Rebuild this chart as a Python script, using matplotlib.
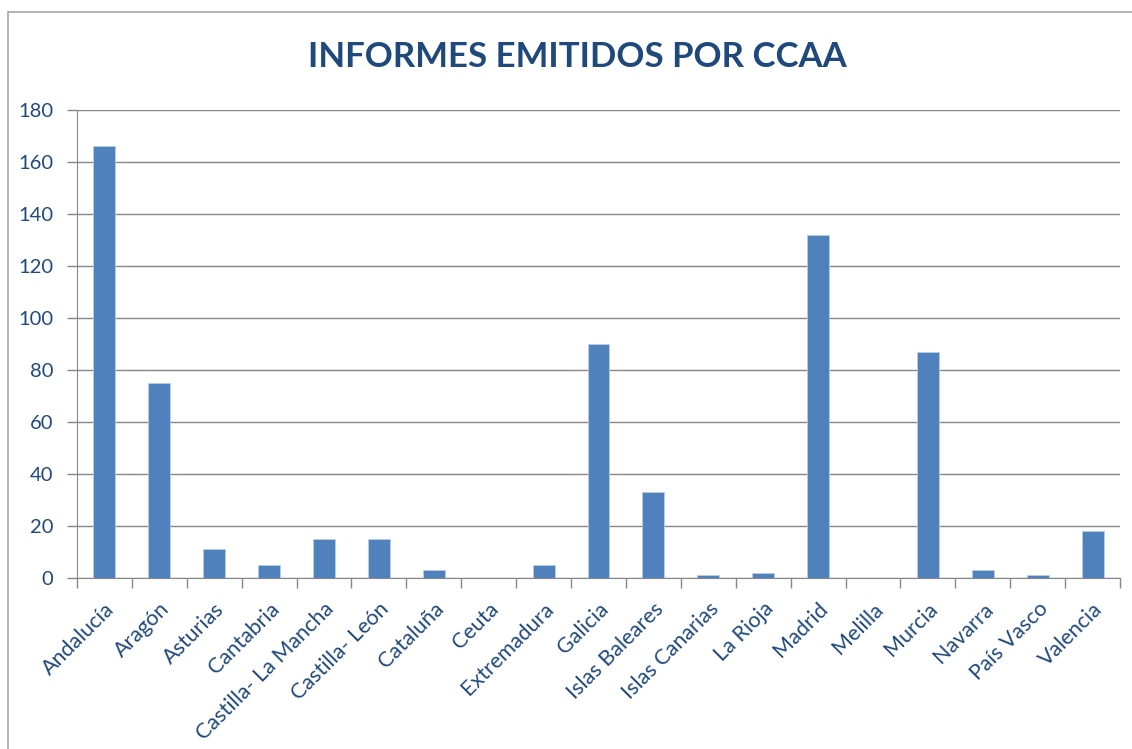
import numpy as np
import matplotlib.pyplot as plt
from matplotlib.patches import Rectangle

regiones = ['Andalucía', 'Aragón', 'Asturias', 'Cantabria', 'Castilla- La Mancha',
            'Castilla- León', 'Cataluña', 'Ceuta', 'Extremadura', 'Galicia',
            'Islas Baleares', 'Islas Canarias', 'La Rioja', 'Madrid', 'Melilla',
            'Murcia', 'Navarra', 'País Vasco', 'Valencia']
informes = [166, 75, 11, 5, 15, 15, 3, 0, 5, 90, 33, 1, 2, 132, 0, 87, 3, 1, 18]
yticks = [0, 20, 40, 60, 80, 100, 120, 140, 160, 180]

azul_barra = '#4F81BD'
azul_texto = '#1F497D'
gris = '#878787'

plt.rcParams['font.family'] = ['Lato', 'DejaVu Sans']

fig = plt.figure(figsize=(11.32, 7.49), dpi=100)
# marco exterior del gráfico
fig.patches.append(Rectangle((8 / 1132, -0.1), 1.2, 1 - 12 / 749 + 0.1,
                             transform=fig.transFigure, fill=False,
                             edgecolor='#A6A6A6', linewidth=1.2))

ax = fig.add_axes([77 / 1132, 1 - 578 / 749, (1120 - 77) / 1132, (578 - 110) / 749])
x = np.arange(len(regiones))
ax.bar(x, informes, width=0.4, color=azul_barra, edgecolor='#B9CDE5', linewidth=0.6, zorder=3)

ax.set_xlim(-0.5, len(regiones) - 0.5)
ax.set_ylim(0, 180)
ax.set_yticks(yticks)
ax.yaxis.grid(True, color=gris, linewidth=1)
ax.set_axisbelow(True)

ax.set_xticks(x)
ax.set_xticklabels(regiones, rotation=45, ha='right', rotation_mode='anchor',
                   fontsize=15.5, color=azul_texto)
ax.tick_params(axis='x', length=0, pad=15)
ax.set_xticks(np.arange(len(regiones) + 1) - 0.5, minor=True)
ax.tick_params(axis='x', which='minor', length=7, color=gris, width=1)
ax.tick_params(axis='y', length=7, color=gris, width=1, labelsize=14.5,
               labelcolor=azul_texto, pad=10)

for s in ['top', 'right']:
    ax.spines[s].set_visible(False)
ax.spines['left'].set_color(gris)
ax.spines['bottom'].set_color(gris)

fig.text(577 / 1132, 1 - 57 / 749, 'INFORMES EMITIDOS POR CCAA', ha='center', va='center',
         fontsize=25, fontweight='bold', color=azul_texto)

fig.savefig('out.png', dpi=100)
